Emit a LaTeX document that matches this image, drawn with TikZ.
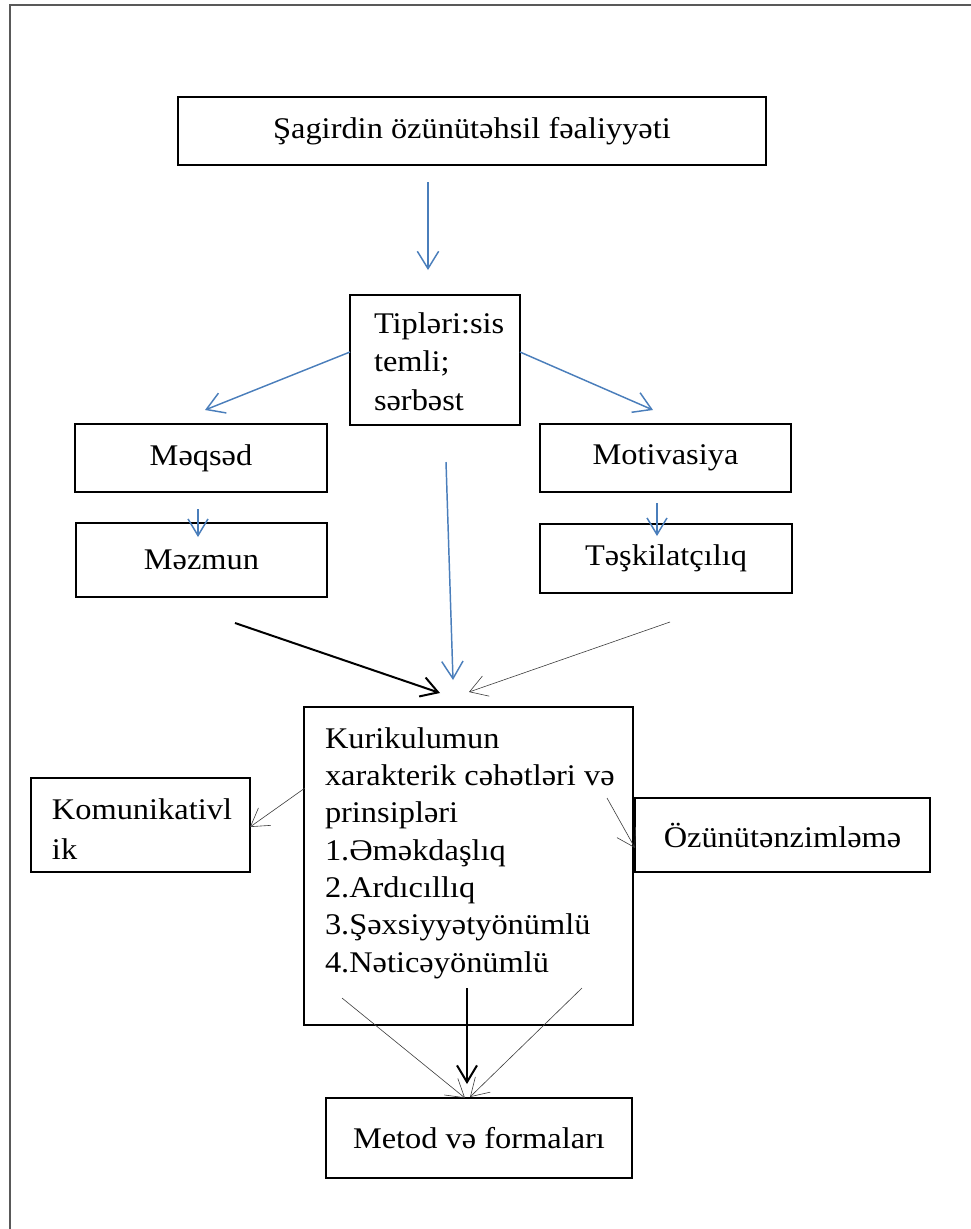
\documentclass[tikz,border=0pt]{standalone}
\usepackage{fontspec}
\setmainfont{Liberation Serif}[FakeStretch=1.08]
\usetikzlibrary{arrows.meta}
\definecolor{arrblue}{RGB}{74,126,187}
\definecolor{thingray}{RGB}{60,60,60}
\newcommand\dgfont{\fontsize{22.5}{28}\selectfont}
\begin{document}
\begin{tikzpicture}[x=0.75pt,y=-0.75pt,
  box/.style={draw=black, line width=0.9pt, inner sep=0pt, font=\dgfont, fill=white},
  bluearrow/.style={draw=arrblue, line width=1.1pt, -{Straight Barb[length=13pt,width=16pt]}},
  smallblue/.style={draw=arrblue, line width=1.1pt, -{Straight Barb[length=12.5pt,width=15pt]}},
  thickarrow/.style={draw=black, line width=1.5pt, -{Straight Barb[length=12.5pt,width=15pt]}},
  thinarrow/.style={draw=thingray, line width=0.45pt, -{Straight Barb[length=13pt,width=16pt]}},
  frameline/.style={draw=black!65, line width=1.2pt}]
\useasboundingbox (0,0) rectangle (971,1229);
\draw[frameline] (10,1240) -- (10,5) -- (985,5);

% boxes
\node[box, minimum width=441pt, minimum height=51pt] (top) at (472,131) {Şagirdin özünütəhsil fəaliyyəti};
\node[box] (tip) at (435,360)
  {\parbox[c][97.5pt][t]{127.5pt}{\fontsize{22.5}{28.9}\selectfont\leftskip=18pt\rule{0pt}{28.5pt}Tipləri:sis\\temli;\\sərbəst}};
\node[box, minimum width=189pt, minimum height=51pt] (meq) at (201,458) {Məqsəd};
\node[box, minimum width=188.25pt, minimum height=51pt] (mot) at (665.5,458) {Motivasiya};
\node[box, minimum width=188.25pt, minimum height=55.5pt] (mez) at (201.5,560) {Məzmun};
\node[box, minimum width=189pt, minimum height=51.75pt] (tes) at (666,558.5) {Təşkilatçılıq};
\node[box] (kur) at (468.5,866)
  {\parbox[c][238.5pt][t]{246.75pt}{\leftskip=15.75pt\rule{0pt}{30.75pt}Kurikulumun\\xarakterik cəhətləri və\\prinsipləri\\1.Əməkdaşlıq\\2.Ardıcıllıq\\3.Şəxsiyyətyönümlü\\4.Nəticəyönümlü}};
\node[box] (kom) at (140.5,825)
  {\parbox[c][70.5pt][t]{164.25pt}{\fontsize{22.5}{30}\selectfont\leftskip=15.75pt\rule{0pt}{30.75pt}Komunikativl\\ik}};
\node[box, minimum width=221.25pt, minimum height=55.5pt] (ozu) at (782.5,835) {Özünütənzimləmə};
\node[box, minimum width=229.5pt, minimum height=60pt] (met) at (479,1138) {Metod və formaları};

% connector end points
\coordinate (a1s) at (428,182);  \coordinate (a1e) at (428,270);
\coordinate (a2s) at (350,352);  \coordinate (a2e) at (205,410);
\coordinate (a3s) at (520,352);  \coordinate (a3e) at (653,410);
\coordinate (a4s) at (198,509);  \coordinate (a4e) at (198,537);
\coordinate (a5s) at (657,503);  \coordinate (a5e) at (657,536);
\coordinate (a6s) at (446,462);  \coordinate (a6e) at (453,680);
\coordinate (a7s) at (235,623);  \coordinate (a7e) at (440,693);
\coordinate (a8s) at (670,622);  \coordinate (a8e) at (469,692);
\coordinate (a9s) at (305,788);  \coordinate (a9e) at (250,827);
\coordinate (a10s) at (607,798); \coordinate (a10e) at (635,848);
\coordinate (a11s) at (342,998); \coordinate (a11e) at (465,1098);
\coordinate (a12s) at (467,988); \coordinate (a12e) at (467,1084);
\coordinate (a13s) at (582,988); \coordinate (a13e) at (470,1097);

\draw[bluearrow] (a1s) -- (a1e);
\draw[bluearrow] (a2s) -- (a2e);
\draw[bluearrow] (a3s) -- (a3e);
\draw[smallblue] (a4s) -- (a4e);
\draw[smallblue] (a5s) -- (a5e);
\draw[bluearrow] (a6s) -- (a6e);
\draw[thickarrow] (a7s) -- (a7e);
\draw[thinarrow] (a8s) -- (a8e);
\draw[thinarrow] (a9s) -- (a9e);
\draw[thinarrow] (a10s) -- (a10e);
\draw[thinarrow] (a11s) -- (a11e);
\draw[thickarrow] (a12s) -- (a12e);
\draw[thinarrow] (a13s) -- (a13e);
\end{tikzpicture}
\end{document}
